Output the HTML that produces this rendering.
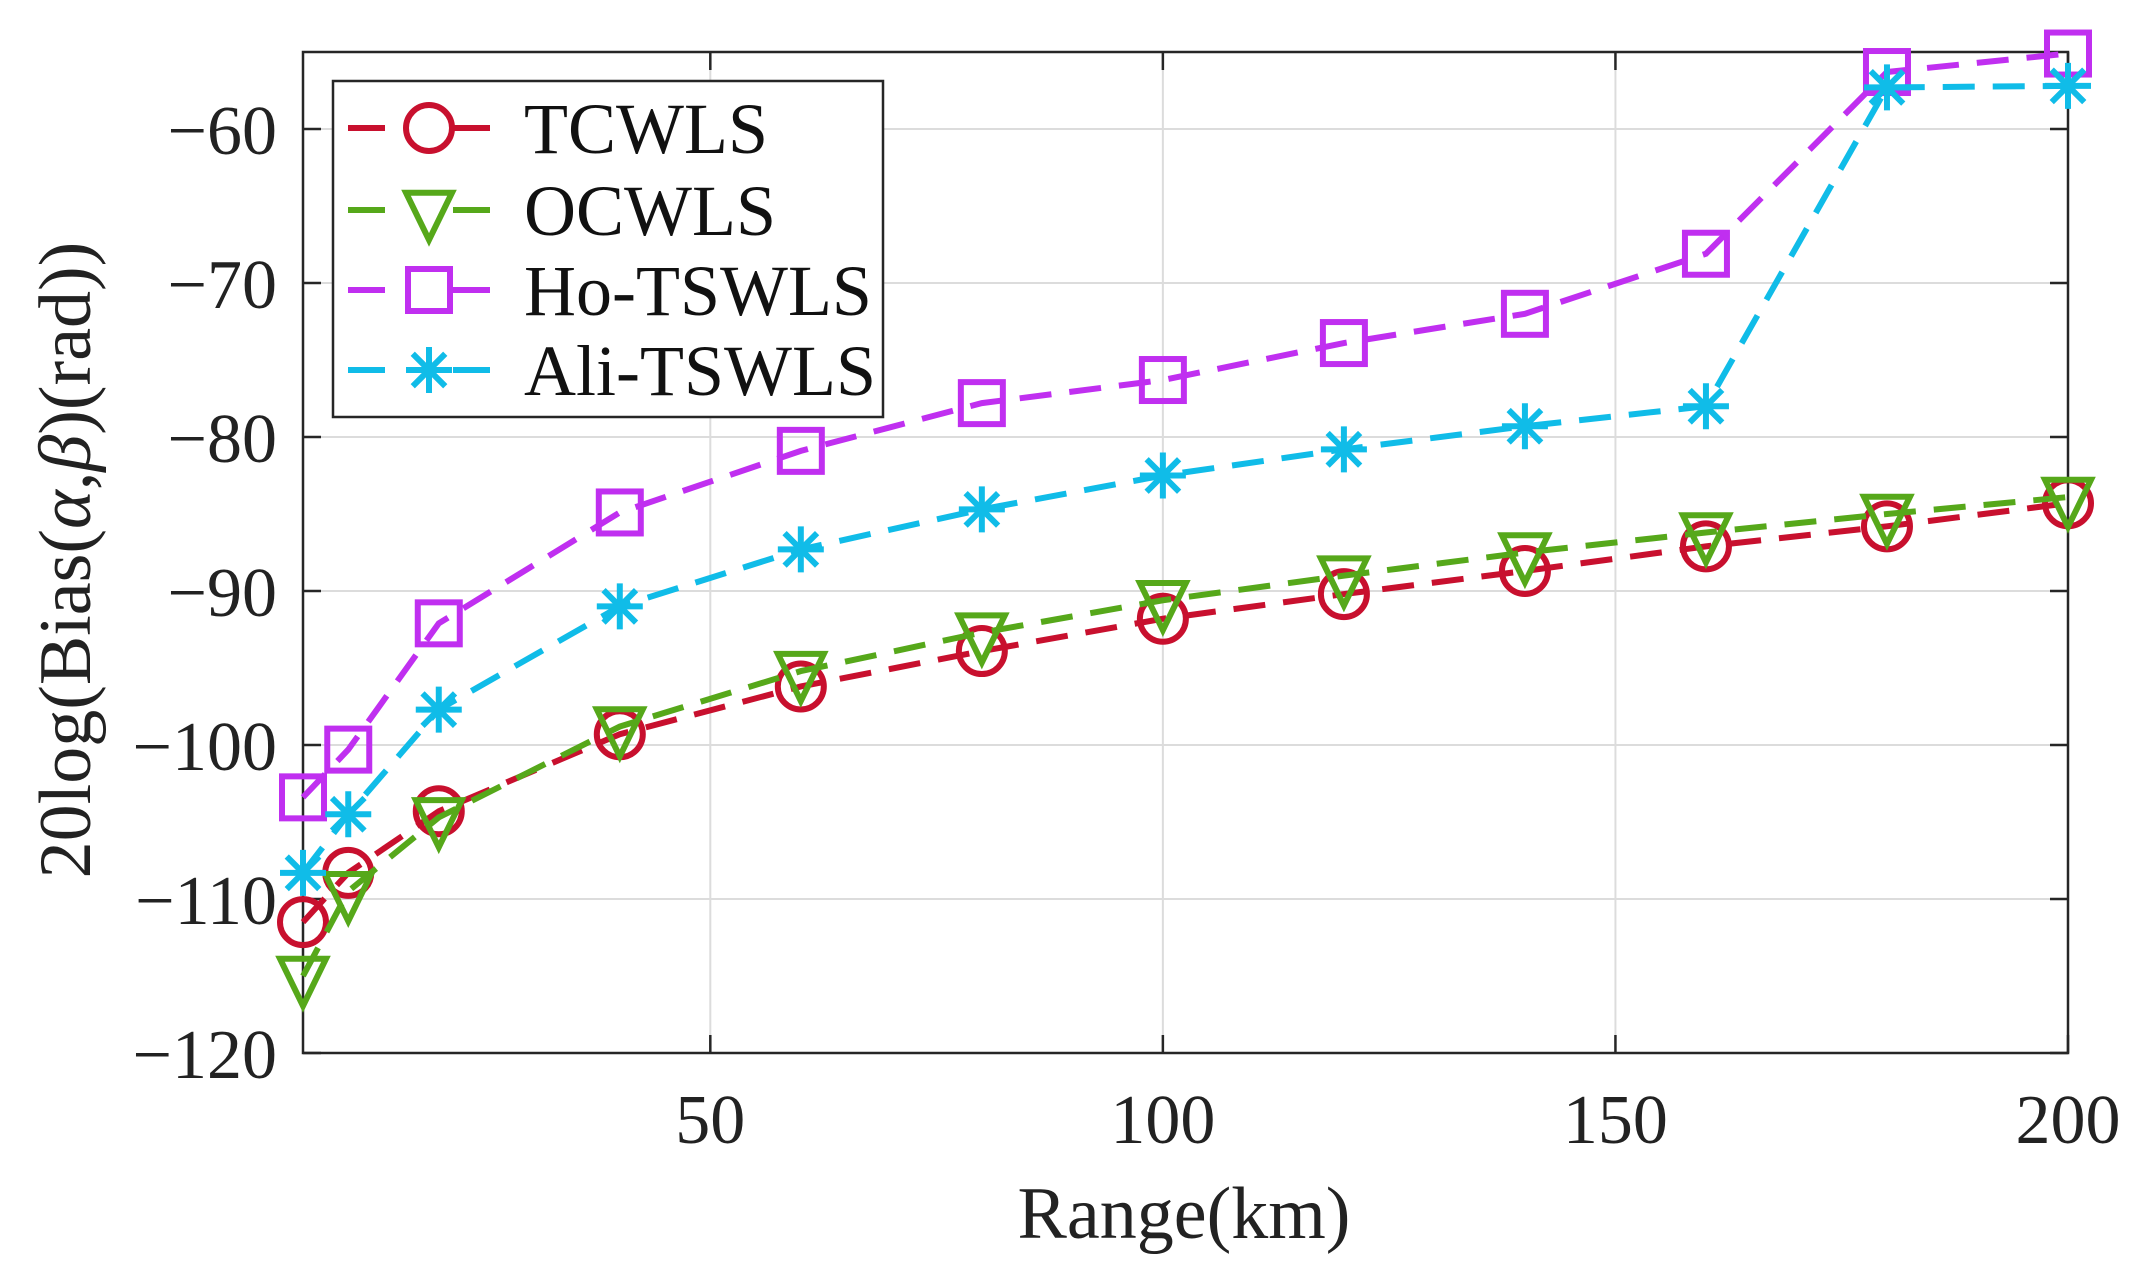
<!DOCTYPE html>
<html><head><meta charset="utf-8"><style>
html,body{margin:0;padding:0;background:#fff;}
svg{display:block;font-family:"Liberation Serif",serif;}
</style></head><body>
<svg id="chart" width="2139" height="1283" viewBox="0 0 2139 1283">
<g id="grid"></g>
<g id="axes"></g>
<g id="series"></g>
<g id="legend"></g>
<text x="1184" y="1238" font-size="74" text-anchor="middle" fill="#222">Range(km)</text>
<text transform="translate(90,560) rotate(-90)" font-size="74" text-anchor="middle" fill="#222">20log(Bias(<tspan font-style="italic">α</tspan>,<tspan font-style="italic">β</tspan>)(rad))</text>
</svg>
<script>
const xs = [5,10,20,40,60,80,100,120,140,160,180,200];
const tcwls = [-111.5,-108.3,-104.3,-99.3,-96.2,-93.9,-91.8,-90.2,-88.7,-87.1,-85.8,-84.3];
const ocwls = [-115,-109.5,-104.7,-98.8,-95.2,-92.7,-90.6,-89.0,-87.5,-86.2,-85.0,-83.9];
const hotswls = [-103.4,-100.3,-92.1,-84.9,-80.9,-77.8,-76.3,-73.9,-72.0,-68.1,-56.3,-55.1];
const alitswls = [-108.3,-104.5,-97.7,-91.0,-87.3,-84.7,-82.5,-80.8,-79.3,-78.0,-57.3,-57.2];
const xTicks = [50,100,150,200];
const yTicks = [-60,-70,-80,-90,-100,-110,-120];
const seriesNames = ["TCWLS","OCWLS","Ho-TSWLS","Ali-TSWLS"];

const L=303,R=2068,T=52,B=1053;
const X0=5,X1=200,Y0=-120,Y1=-55;
const sx=v=>L+(v-X0)/(X1-X0)*(R-L);
const sy=v=>B-(v-Y0)/(Y1-Y0)*(B-T);
const NS="http://www.w3.org/2000/svg";
function mk(tag,attrs,parent){const e=document.createElementNS(NS,tag);for(const k in attrs)e.setAttribute(k,attrs[k]);parent.appendChild(e);return e;}
const grid=document.getElementById('grid'),axes=document.getElementById('axes'),ser=document.getElementById('series'),leg=document.getElementById('legend');

xTicks.forEach(t=>{
  const g=mk('line',{x1:sx(t),x2:sx(t),y1:T,y2:B,stroke:'#dcdcdc','stroke-width':2},grid);
  
  
  const tk=mk('line',{x1:sx(t),x2:sx(t),y1:B,y2:B-18,stroke:'#262626','stroke-width':2.5},axes);
  
  
  const tk2=mk('line',{x1:sx(t),x2:sx(t),y1:T,y2:T+18,stroke:'#262626','stroke-width':2.5},axes);
  
  
  const tx=mk('text',{x:sx(t),y:B+90,'font-size':70,'text-anchor':'middle',fill:'#222'},axes);
  tx.textContent=t;
  
  
});
yTicks.forEach(t=>{
  const g=mk('line',{x1:L,x2:R,y1:sy(t),y2:sy(t),stroke:'#dcdcdc','stroke-width':2},grid);
  
  
  const tk=mk('line',{x1:L,x2:L+18,y1:sy(t),y2:sy(t),stroke:'#262626','stroke-width':2.5},axes);
  
  
  const tk2=mk('line',{x1:R,x2:R-18,y1:sy(t),y2:sy(t),stroke:'#262626','stroke-width':2.5},axes);
  
  
  const tx=mk('text',{x:277,y:sy(t)+25,'font-size':70,'text-anchor':'end',fill:'#222'},axes);
  tx.textContent='\u2212'+Math.abs(t);
  
  
});
const box=mk('rect',{x:L,y:T,width:R-L,height:B-T,fill:'none',stroke:'#262626','stroke-width':2.5},axes);



const colors=['#c8102e','#56a81a','#c02ff0','#10bce8'];
const types=['circle','tri','square','star'];
function marker(type,cx,cy,c,parent){
  const g=mk('g',{fill:'none',stroke:c,'stroke-width':6},parent);
  const r=23;
  if(type==='circle')mk('circle',{cx:cx,cy:cy,r:r},g);
  else if(type==='tri')mk('polygon',{points:`${cx-r},${cy-r*0.75} ${cx+r},${cy-r*0.75} ${cx},${cy+r*1.3}`},g);
  else if(type==='square')mk('rect',{x:cx-r+2,y:cy-r+2,width:2*r-4,height:2*r-4},g);
  else{for(let a=0;a<4;a++){const an=a*Math.PI/4;mk('line',{x1:cx-r*Math.cos(an),y1:cy-r*Math.sin(an),x2:cx+r*Math.cos(an),y2:cy+r*Math.sin(an)},g);}}
  return g;
}
[tcwls,ocwls,hotswls,alitswls].forEach((vals,i)=>{
  const g=mk('g',{},ser);
  
  
  const pts=xs.map((x,j)=>sx(x)+','+sy(vals[j])).join(' ');
  const pl=mk('polyline',{points:pts,fill:'none',stroke:colors[i],'stroke-width':6,'stroke-dasharray':'32,18'},g);
  
  
  xs.forEach((x,j)=>{
    const m=marker(types[i],sx(x),sy(vals[j]),colors[i],g);
    
    
  });
});

const lb=mk('rect',{x:333,y:81,width:550,height:336,fill:'#fff',stroke:'#262626','stroke-width':2.5},leg);


const rowY=[128,210,290,370];
seriesNames.forEach((n,i)=>{
  const g=mk('g',{},leg);
  
  
  mk('line',{x1:348,x2:385,y1:rowY[i],y2:rowY[i],stroke:colors[i],'stroke-width':6},g);
  mk('line',{x1:453,x2:490,y1:rowY[i],y2:rowY[i],stroke:colors[i],'stroke-width':6},g);
  marker(types[i],429,rowY[i],colors[i],g);
  const t=mk('text',{x:524,y:rowY[i]+25,'font-size':72,fill:'#111'},g);
  t.textContent=n;
});
</script>
</body></html>
